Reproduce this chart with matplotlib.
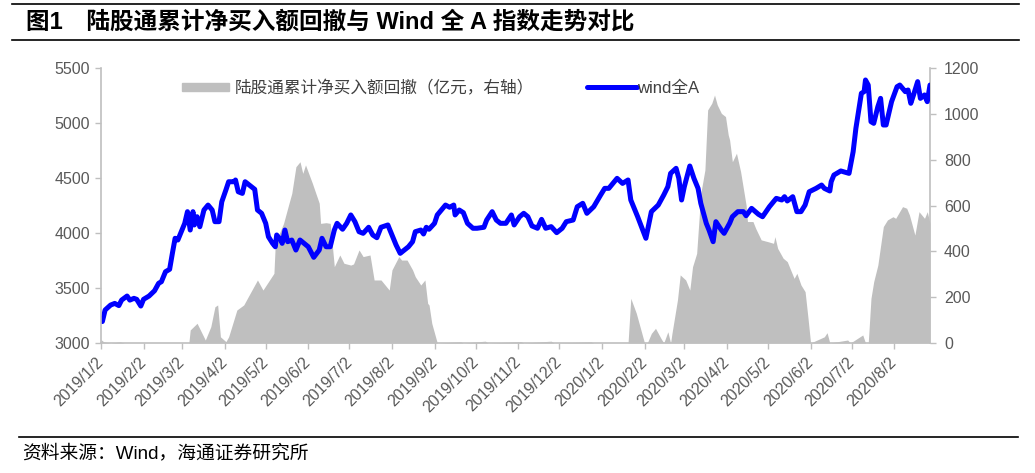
import numpy as np
import matplotlib
matplotlib.use("Agg")
import matplotlib.pyplot as plt
from matplotlib.patches import Patch
from matplotlib.lines import Line2D

plt.rcParams['font.family'] = ['Liberation Sans', 'Noto Sans CJK SC', 'DejaVu Sans']

# wind全A index (left axis), x = days since 2019-01-02
line_days = [0, 1, 3, 7, 10, 13, 15, 19, 21, 24, 26, 29, 31, 35, 39, 42, 44, 47, 50, 52,
             54, 56, 59, 61, 63, 65, 67, 68, 70, 72, 75, 78, 81, 83, 86, 88, 91, 93, 97, 98,
             100, 103, 105, 108, 112, 114, 117, 120, 122, 125, 127, 128, 131, 132, 134, 136, 139, 142, 145, 148,
             151, 155, 159, 161, 164, 167, 170, 172, 176, 179, 182, 185, 188, 191, 195, 198, 201, 204, 209, 211,
             215, 218, 221, 224, 227, 229, 233, 235, 237, 239, 243, 245, 249, 251, 254, 257, 258, 261, 264, 267,
             271, 274, 279, 281, 285, 288, 291, 295, 299, 301, 305, 308, 311, 314, 318, 321, 324, 328, 332, 336,
             339, 344, 347, 351, 354, 359, 364, 367, 370, 373, 376, 380, 384, 386, 391, 397, 401, 406, 408, 410,
             413, 415, 419, 421, 423, 425, 429, 432, 435, 437, 441, 443, 446, 448, 452, 454, 458, 460, 464, 468,
             470, 474, 479, 482, 487, 492, 496, 498, 500, 504, 507, 510, 513, 516, 521, 525, 527, 531, 532, 534,
             539, 545, 548, 550, 554, 556, 557, 559, 561, 563, 566, 568, 570, 572, 576, 580, 582, 586, 588, 590,
             592, 595, 597, 600, 602, 604]
line_vals = [3220, 3195, 3300, 3345, 3360, 3340, 3390, 3427, 3390, 3406, 3397, 3336, 3397, 3427, 3475, 3543, 3557, 3648, 3670, 3815,
             3952, 3936, 4027, 4088, 4194, 4027, 4194, 4073, 4148, 4057, 4209, 4254, 4209, 4103, 4103, 4284, 4391, 4466, 4466, 4482,
             4375, 4360, 4466, 4436, 4397, 4209, 4179, 4088, 3966, 3906, 3875, 3982, 3936, 3906, 4027, 3921, 3936, 3845, 3936, 3906,
             3875, 3779, 3845, 3952, 3875, 3875, 4027, 4088, 4034, 4088, 4164, 4103, 4012, 3997, 4052, 3982, 3957, 4052, 4073, 4012,
             3891, 3815, 3845, 3875, 3921, 4012, 4027, 3991, 4052, 4034, 4088, 4164, 4224, 4254, 4234, 4254, 4164, 4209, 4185, 4088,
             4043, 4043, 4052, 4118, 4194, 4118, 4088, 4088, 4164, 4073, 4148, 4179, 4148, 4064, 4043, 4124, 4043, 4058, 4003, 4043,
             4103, 4118, 4239, 4270, 4179, 4239, 4345, 4406, 4406, 4451, 4497, 4451, 4482, 4300, 4148, 3952, 4194, 4254, 4300, 4345,
             4421, 4542, 4588, 4497, 4300, 4421, 4609, 4497, 4406, 4270, 4088, 4027, 3921, 4103, 4027, 3997, 4088, 4148, 4194, 4194,
             4157, 4224, 4170, 4148, 4239, 4315, 4300, 4330, 4291, 4330, 4194, 4194, 4254, 4375, 4406, 4436, 4406, 4382, 4466, 4527,
             4564, 4542, 4739, 4951, 5270, 5285, 5391, 5345, 5012, 4997, 5148, 5224, 4982, 4982, 5194, 5330, 5345, 5285, 5300, 5179,
             5255, 5376, 5224, 5255, 5194, 5345]

# 陆股通累计净买入额回撤 (right axis, 亿元)
area_days = [0, 2, 7, 14, 17, 64, 65, 70, 76, 80, 83, 85, 87, 91, 93, 99, 104, 106, 114, 118,
             126, 127, 133, 137, 139, 142, 145, 147, 149, 154, 159, 160, 164, 167, 170, 174, 177, 182, 184, 188,
             191, 196, 199, 204, 207, 210, 212, 217, 219, 223, 227, 229, 233, 236, 238, 239, 241, 245, 262, 264,
             280, 282, 306, 308, 328, 330, 357, 359, 384, 386, 390, 396, 398, 401, 404, 408, 410, 413, 415, 416,
             420, 422, 426, 429, 431, 434, 437, 440, 442, 445, 447, 449, 452, 455, 457, 458, 460, 463, 466, 470,
             471, 475, 477, 481, 486, 490, 491, 493, 497, 500, 503, 505, 507, 510, 513, 515, 517, 527, 529, 531,
             544, 546, 555, 557, 559, 561, 563, 566, 570, 573, 577, 579, 584, 587, 589, 593, 596, 600, 602, 604]
area_vals = [15, 5, 0, 5, 0, 0, 57, 86, 13, 71, 158, 166, 27, 6, 27, 144, 166, 188, 275, 231,
             304, 435, 522, 610, 653, 769, 791, 740, 777, 697, 610, 522, 525, 522, 333, 384, 348, 340, 345, 406,
             377, 384, 275, 275, 253, 231, 319, 377, 362, 362, 319, 289, 253, 275, 173, 166, 86, 0, 5, 0,
             8, 0, 6, 0, 8, 0, 5, 0, 0, 195, 130, 0, 0, 42, 64, 20, 0, 49, 0, 42,
             188, 297, 275, 231, 333, 391, 653, 755, 1017, 1046, 1082, 1039, 1002, 988, 908, 886, 791, 828, 748, 602,
             530, 530, 500, 450, 442, 435, 464, 413, 370, 355, 311, 282, 304, 253, 224, 115, 0, 27, 45, 0,
             13, 0, 35, 0, 0, 195, 268, 340, 508, 537, 551, 544, 595, 588, 559, 471, 573, 544, 573, 522]

tick_labels = ['2019/1/2', '2019/2/2', '2019/3/2', '2019/4/2', '2019/5/2', '2019/6/2', '2019/7/2',
               '2019/8/2', '2019/9/2', '2019/10/2', '2019/11/2', '2019/12/2', '2020/1/2', '2020/2/2',
               '2020/3/2', '2020/4/2', '2020/5/2', '2020/6/2', '2020/7/2', '2020/8/2']

start = np.datetime64('2019-01-02')
line_dates = start + np.array(line_days)
area_dates = start + np.array(area_days)
tick_dates = [np.datetime64('-'.join(f'{int(p):02d}' if i else p for i, p in enumerate(t.split('/'))))
              for t in tick_labels]

grey_txt = '#595959'
spine_c = '#bfbfbf'

fig = plt.figure(figsize=(10.35, 4.73), dpi=100)
ax1 = fig.add_axes([101 / 1035, 1 - 343 / 473, 829 / 1035, 275 / 473])
ax2 = ax1.twinx()
ax1.set_zorder(ax2.get_zorder() + 1)
ax1.patch.set_visible(False)

ax2.fill_between(area_dates, area_vals, color='#bfbfbf', lw=0)
ax1.plot(line_dates, line_vals, color='#0000ff', lw=3.6,
         solid_joinstyle='round', solid_capstyle='round')

ax1.set_xlim(line_dates[0], line_dates[-1])
ax1.set_ylim(3000, 5500)
ax1.set_yticks(np.arange(3000, 5501, 500))
ax2.set_ylim(0, 1200)
ax2.set_yticks(np.arange(0, 1201, 200))

ax1.set_xticks(tick_dates)
ax1.set_xticklabels(tick_labels, rotation=45, ha='right', va='center',
                    rotation_mode='anchor', color=grey_txt)

for a in (ax1, ax2):
    a.spines['top'].set_visible(False)
    for s in a.spines.values():
        s.set_color(spine_c)
        s.set_linewidth(1.2)
    a.tick_params(colors=spine_c, labelcolor=grey_txt, length=4, width=1, labelsize=11.5)
ax1.spines['right'].set_visible(False)
ax2.spines['left'].set_visible(False)
ax2.spines['bottom'].set_visible(False)
ax1.tick_params(axis='x', pad=8, labelsize=11.5)
ax1.tick_params(axis='y', pad=4)
ax2.tick_params(axis='y', pad=6)

leg1 = fig.legend(handles=[Patch(color='#bfbfbf')], labels=['陆股通累计净买入额回撤（亿元，右轴）'],
                  loc='center left', bbox_to_anchor=(182 / 1035, 1 - 88 / 473), frameon=False,
                  fontsize=12, handlelength=2.8, handleheight=0.42, handletextpad=0.35,
                  borderpad=0, borderaxespad=0, labelcolor='#404040')
leg2 = fig.legend(handles=[Line2D([], [], color='#0000ff', lw=3.6, solid_capstyle='round')],
                  labels=['wind全A'], loc='center left', bbox_to_anchor=(587 / 1035, 1 - 88 / 473),
                  frameon=False, fontsize=12, handlelength=3.0, handletextpad=0.0,
                  borderpad=0, borderaxespad=0, labelcolor='#404040')

fig.text(26 / 1035, 1 - 22 / 473, '图1\u3000陆股通累计净买入额回撤与 Wind 全 A 指数走势对比',
         fontsize=17, fontweight='bold', va='center', ha='left', color='black')
fig.add_artist(Line2D([0.012, 0.985], [1 - 4 / 473, 1 - 4 / 473], color='black', lw=1.2))
fig.add_artist(Line2D([0.012, 0.985], [1 - 40 / 473, 1 - 40 / 473], color='black', lw=1.2))
fig.add_artist(Line2D([0.018, 0.984], [1 - 437 / 473, 1 - 437 / 473], color='black', lw=1.2))
fig.text(22 / 1035, 1 - 453 / 473, '资料来源：Wind，海通证券研究所', fontsize=13.5,
         va='center', ha='left', color='black')

fig.savefig('out.png', dpi=100)
